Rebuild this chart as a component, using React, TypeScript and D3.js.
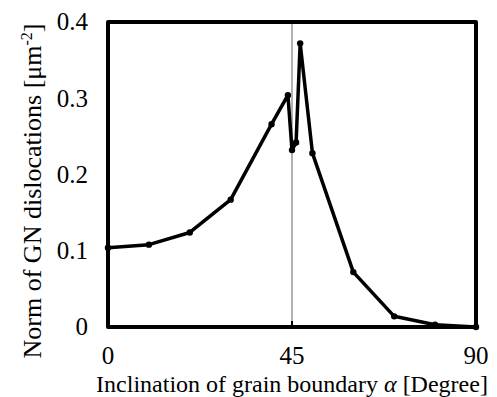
import React from "react";
import * as d3 from "d3";

const xValues = [0, 10, 20, 30, 40, 44, 45, 46, 47, 50, 60, 70, 80, 90];
const yValues = [0.104, 0.108, 0.124, 0.167, 0.266, 0.304, 0.232, 0.242, 0.372, 0.228, 0.072, 0.014, 0.003, 0];
const xTicks = [0, 45, 90];
const yTicks = [0, 0.1, 0.2, 0.3, 0.4];

const W = 497, H = 397;
const M = { left: 108, right: 21, top: 22, bottom: 70 };

export default function App() {
  const x = d3.scaleLinear().domain([0, 90]).range([M.left, W - M.right]);
  const y = d3.scaleLinear().domain([0, 0.4]).range([H - M.bottom, M.top]);
  const pts = xValues.map((v, i) => [v, yValues[i]] as [number, number]);
  const line = d3.line<[number, number]>().x(d => x(d[0])).y(d => y(d[1]));
  const tick = { fontFamily: "Liberation Serif", fontSize: "25px" };
  const xl = { fontFamily: "Liberation Serif", fontSize: "24px" };
  const yl = { fontFamily: "Liberation Serif", fontSize: "26px" };
  return (
    <svg width={W} height={H} style={{ position: "absolute", left: 0, top: 0 }}>
      <rect x={0} y={0} width={W} height={H} fill="#fff" />
      <line x1={x(45)} x2={x(45)} y1={y(0.4)} y2={y(0)} stroke="#888" strokeWidth={1.3} />
      <rect x={x(0)} y={y(0.4)} width={x(90) - x(0)} height={y(0) - y(0.4)} fill="none" stroke="#000" strokeWidth={4} strokeLinejoin="round" />
      <line x1={x(45)} x2={x(45)} y1={y(0)} y2={y(0) - 6} stroke="#000" strokeWidth={2} />
      <path d={line(pts) || ""} fill="none" stroke="#000" strokeWidth={3.5} strokeLinejoin="round" />
      {pts.map((p, i) => (
        <circle key={i} cx={x(p[0])} cy={y(p[1])} r={3.2} fill="#000" />
      ))}
      {yTicks.map(t => (
        <text key={t} x={88} y={y(t)} dy="0.33em" textAnchor="end" style={tick}>{t === 0 ? "0" : t.toFixed(1)}</text>
      ))}
      {xTicks.map(t => (
        <text key={t} x={x(t)} y={364} textAnchor="middle" style={tick}>{t}</text>
      ))}
      <text x={292} y={392} textAnchor="middle" style={xl}>
        Inclination of grain boundary <tspan fontStyle="italic">α</tspan> [Degree]
      </text>
      <text transform={`translate(41, 191) rotate(-90)`} textAnchor="middle" style={yl}>
        Norm of GN dislocations [μm<tspan dy={-9} style={{ fontSize: "16px" }}>-2</tspan><tspan dy={9}>]</tspan>
      </text>
    </svg>
  );
}
